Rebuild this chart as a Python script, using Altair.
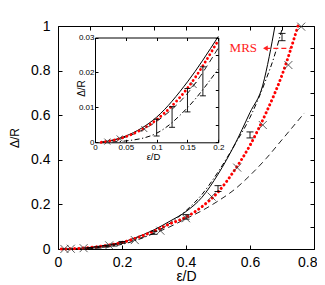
import altair as alt
import pandas as pd

# ---------------- data ----------------
solid_x = [0.01, 0.05, 0.1, 0.15, 0.2, 0.25, 0.3, 0.35, 0.4, 0.45, 0.5, 0.55, 0.6, 0.64, 0.66, 0.678]
solid_y = [0.0, 0.0018, 0.0072, 0.0173, 0.0303, 0.055, 0.086, 0.125, 0.168, 0.232, 0.335, 0.462, 0.612, 0.735, 0.862, 1.0]

dashdot_x = [0.01, 0.05, 0.1, 0.15, 0.2, 0.25, 0.3, 0.35, 0.4, 0.45, 0.5, 0.55, 0.6, 0.65, 0.675, 0.695, 0.703]
dashdot_y = [0.0, 0.0004, 0.0026, 0.0099, 0.021, 0.042, 0.072, 0.116, 0.172, 0.245, 0.345, 0.462, 0.59, 0.76, 0.86, 0.96, 1.0]

dashed_x = [0.01, 0.05, 0.1, 0.15, 0.2, 0.25, 0.3, 0.35, 0.4, 0.45, 0.5, 0.55, 0.6, 0.65, 0.7, 0.77]
dashed_y = [0.0, 0.0015, 0.006, 0.014, 0.027, 0.046, 0.07, 0.1, 0.136, 0.172, 0.215, 0.265, 0.33, 0.405, 0.49, 0.61]

mrs_x = [0.01, 0.05, 0.1, 0.15, 0.2, 0.25, 0.3, 0.35, 0.4, 0.45, 0.5, 0.55, 0.6, 0.65, 0.7, 0.75]
mrs_y = [0.0, 0.0016, 0.0065, 0.0155, 0.0292, 0.052, 0.08, 0.113, 0.143, 0.19, 0.255, 0.35, 0.465, 0.61, 0.78, 1.0]

cross_x = [0.02, 0.04, 0.08, 0.16, 0.24, 0.32, 0.40, 0.48, 0.56, 0.64, 0.72, 0.76]
cross_y = [0.0002, 0.0011, 0.0038, 0.0164, 0.04, 0.082, 0.138, 0.235, 0.365, 0.556, 0.825, 0.997]

err_x = [0.1, 0.125, 0.15, 0.175, 0.2, 0.3, 0.4, 0.5, 0.6, 0.7]
err_lo = [0.0018, 0.0043, 0.0087, 0.0133, 0.026, 0.066, 0.134, 0.258, 0.498, 0.934]
err_hi = [0.0066, 0.0102, 0.0154, 0.0216, 0.034, 0.080, 0.154, 0.284, 0.525, 0.967]

label_text = ["MRS"]
label_x = [0.622]
label_y = [0.9]
arrow_x = [0.648]
arrow_x2 = [0.727]

main_x_ticks = [0, 0.1, 0.2, 0.3, 0.4, 0.5, 0.6, 0.7, 0.8]
main_y_ticks = [0, 0.1, 0.2, 0.3, 0.4, 0.5, 0.6, 0.7, 0.8, 0.9, 1]
inset_x_ticks = [0, 0.05, 0.1, 0.15, 0.2]
inset_y_ticks = [0, 0.005, 0.01, 0.015, 0.02, 0.025, 0.03]

W, H = 256, 223
FONT = "Liberation Sans"


def curve(xs, ys, xmax=None):
    d = pd.DataFrame({"x": xs, "y": ys})
    if xmax is not None:
        d = d[d["x"] <= xmax + 1e-9]
    return d


err_df = pd.DataFrame({"x": err_x, "lo": err_lo, "hi": err_hi})
caps_df = pd.DataFrame({"x": err_x + err_x, "y": err_lo + err_hi})
cross_df = pd.DataFrame({"x": cross_x, "y": cross_y})

CROSS = "M-1,-1L1,1M-1,1L1,-1"

# ---------------- scales ----------------
MX = alt.Scale(domain=[0, 0.8], nice=False, zero=False)
MY = alt.Scale(domain=[0, 1], nice=False, zero=False)
IX = alt.Scale(domain=[0, 0.2], range=[37, 160.3], nice=False, zero=False)
IY = alt.Scale(domain=[0, 0.03], range=[116.3, 11.5], nice=False, zero=False)

common = dict(grid=False, labelFont=FONT, labelColor="black", tickColor="black",
              titleFont=FONT, titleColor="black", titleFontWeight="normal",
              labelFlush=False, labelOverlap=False, format="~g")

mx_axis = alt.Axis(orient="bottom", values=main_x_ticks, domain=False,
                   labelExpr="round(datum.value*10) % 2 == 0 ? datum.label : ''",
                   labelAlign={"condition": {"test": "datum.value >= 0.79", "value": "right"},
                               "value": "center"},
                   labelOffset={"condition": {"test": "datum.value >= 0.79", "value": 3},
                                "value": 0},
                   tickSize={"expr": "-4"}, labelFontSize=14, labelPadding=10,
                   title="ε/D", titleFontSize=14, titleBaseline="middle", titleY=27.5,
                   **common)
my_axis = alt.Axis(orient="left", values=main_y_ticks, domain=False,
                   labelExpr="round(datum.value*10) % 2 == 0 ? datum.label : ''",
                   tickSize={"expr": "-4"}, labelFontSize=14, labelPadding=12,
                   title="Δ/R", titleFontSize=12, titleBaseline="middle", titleX=-44,
                   **common)
mx_top = alt.Axis(orient="top", values=main_x_ticks, domain=False, labels=False,
                  tickSize={"expr": "-4"}, title="", grid=False, tickColor="black")
my_right = alt.Axis(orient="right", values=main_y_ticks, domain=False, labels=False,
                    tickSize={"expr": "-4"}, title="", grid=False, tickColor="black")

ix_axis = alt.Axis(orient="bottom", offset=-106.7, values=inset_x_ticks, domain=True,
                   domainColor="black", tickSize={"expr": "-3"}, labelFontSize=8,
                   labelPadding=4, title="ε/D", titleFontSize=9.5, titleBaseline="middle",
                   titleX=95, titleY=14.5, **common)
iy_axis = alt.Axis(orient="left", offset=-37, values=inset_y_ticks, domain=True,
                   domainColor="black", tickSize={"expr": "-3"}, labelFontSize=8,
                   labelPadding=4,
                   labelExpr="round(datum.value*1000) % 10 == 0 ? datum.label : ''",
                   title="Δ/R", titleFontSize=10, titleBaseline="middle",
                   titleX=-13.5, titleY=62, **common)
ix_top = alt.Axis(orient="top", offset=-11.5, values=inset_x_ticks, domain=True,
                  domainColor="black", labels=False, tickSize={"expr": "-3"}, title="",
                  grid=False, tickColor="black")
iy_right = alt.Axis(orient="right", offset=-95.7, values=inset_y_ticks, domain=True,
                    domainColor="black", labels=False, tickSize={"expr": "-3"}, title="",
                    grid=False, tickColor="black")


def make_marks(xs_scale, ys_scale, xmax, x_axis, y_axis, cap_size, cross_size, dot_w):
    X = lambda f="x": alt.X(f, type="quantitative", scale=xs_scale, axis=x_axis)
    Y = lambda f="y": alt.Y(f, type="quantitative", scale=ys_scale, axis=y_axis)
    layers = []
    layers.append(alt.Chart(curve(solid_x, solid_y, xmax)).mark_line(
        color="black", strokeWidth=1, interpolate="monotone").encode(x=X(), y=Y()))
    layers.append(alt.Chart(curve(dashdot_x, dashdot_y, xmax)).mark_line(
        color="black", strokeWidth=1, strokeDash=[5, 2.5, 1.2, 2.5],
        interpolate="monotone").encode(x=alt.X("x:Q", scale=xs_scale), y=alt.Y("y:Q", scale=ys_scale)))
    layers.append(alt.Chart(curve(dashed_x, dashed_y, xmax)).mark_line(
        color="#222222", strokeWidth=1, strokeDash=[6, 4],
        interpolate="monotone").encode(x=alt.X("x:Q", scale=xs_scale), y=alt.Y("y:Q", scale=ys_scale)))
    layers.append(alt.Chart(curve(mrs_x, mrs_y, xmax)).mark_line(
        color="#ff0000", strokeWidth=dot_w, strokeDash=[0.1, 4.3], strokeCap="round",
        interpolate="monotone").encode(x=alt.X("x:Q", scale=xs_scale), y=alt.Y("y:Q", scale=ys_scale)))
    e = err_df if xmax is None else err_df[err_df["x"] < xmax - 1e-9]
    c = caps_df if xmax is None else caps_df[caps_df["x"] < xmax - 1e-9]
    layers.append(alt.Chart(e).mark_rule(color="black", strokeWidth=0.9).encode(
        x=alt.X("x:Q", scale=xs_scale), y=alt.Y("lo:Q", scale=ys_scale), y2="hi:Q"))
    layers.append(alt.Chart(c).mark_tick(color="black", orient="horizontal", size=cap_size,
                                         thickness=0.9, opacity=1).encode(
        x=alt.X("x:Q", scale=xs_scale), y=alt.Y("y:Q", scale=ys_scale)))
    cd = cross_df if xmax is None else cross_df[cross_df["x"] <= xmax]
    layers.append(alt.Chart(cd).mark_point(shape=CROSS, filled=False, color="#333333",
                                           strokeWidth=0.8, size=cross_size, opacity=1).encode(
        x=alt.X("x:Q", scale=xs_scale), y=alt.Y("y:Q", scale=ys_scale)))
    return layers


main_layers = make_marks(MX, MY, None, mx_axis, my_axis, 7, 64, 3)

ann_df = pd.DataFrame({"t": label_text, "x": label_x, "y": label_y,
                       "ax": arrow_x, "ax2": arrow_x2})
main_layers.append(alt.Chart(ann_df).mark_text(
    font="Liberation Serif", fontSize=13, color="#ff2020", align="right", baseline="middle").encode(
    x=alt.X("x:Q", scale=MX), y=alt.Y("y:Q", scale=MY), text="t:N"))
main_layers.append(alt.Chart(ann_df).mark_rule(color="#ff2020", strokeWidth=1.3,
                                               strokeDash=[5, 3]).encode(
    x=alt.X("ax:Q", scale=MX), x2="ax2:Q", y=alt.Y("y:Q", scale=MY)))
main_layers.append(alt.Chart(ann_df).mark_point(shape="triangle-left", filled=True,
                                                color="#ff2020", size=30, opacity=1).encode(
    x=alt.X("ax:Q", scale=MX), y=alt.Y("y:Q", scale=MY)))

main_marks = alt.layer(*main_layers)
main_mirror = alt.Chart(pd.DataFrame({"x": [0], "y": [0]})).mark_point(opacity=0).encode(
    x=alt.X("x:Q", scale=MX, axis=mx_top), y=alt.Y("y:Q", scale=MY, axis=my_right))
main_group = alt.layer(main_marks, main_mirror).resolve_axis(x="independent", y="independent")

inset_layers = make_marks(IX, IY, 0.2, ix_axis, iy_axis, 6, 36, 2.8)
inset_marks = alt.layer(*inset_layers)
inset_mirror = alt.Chart(pd.DataFrame({"x": [0], "y": [0]})).mark_point(opacity=0).encode(
    x=alt.X("x:Q", scale=IX, axis=ix_top), y=alt.Y("y:Q", scale=IY, axis=iy_right))
inset_group = alt.layer(inset_marks, inset_mirror).resolve_axis(x="independent", y="independent")

chart = alt.layer(main_group, inset_group).resolve_scale(
    x="independent", y="independent"
).properties(
    width=W, height=H,
    autosize=alt.AutoSizeParams(type="none"),
    padding={"left": 50, "top": 18, "right": 3, "bottom": 36},
    background="white",
).configure_view(stroke="black", strokeWidth=1)

chart.save("out.html", embed_options={"renderer": "svg", "actions": False})
